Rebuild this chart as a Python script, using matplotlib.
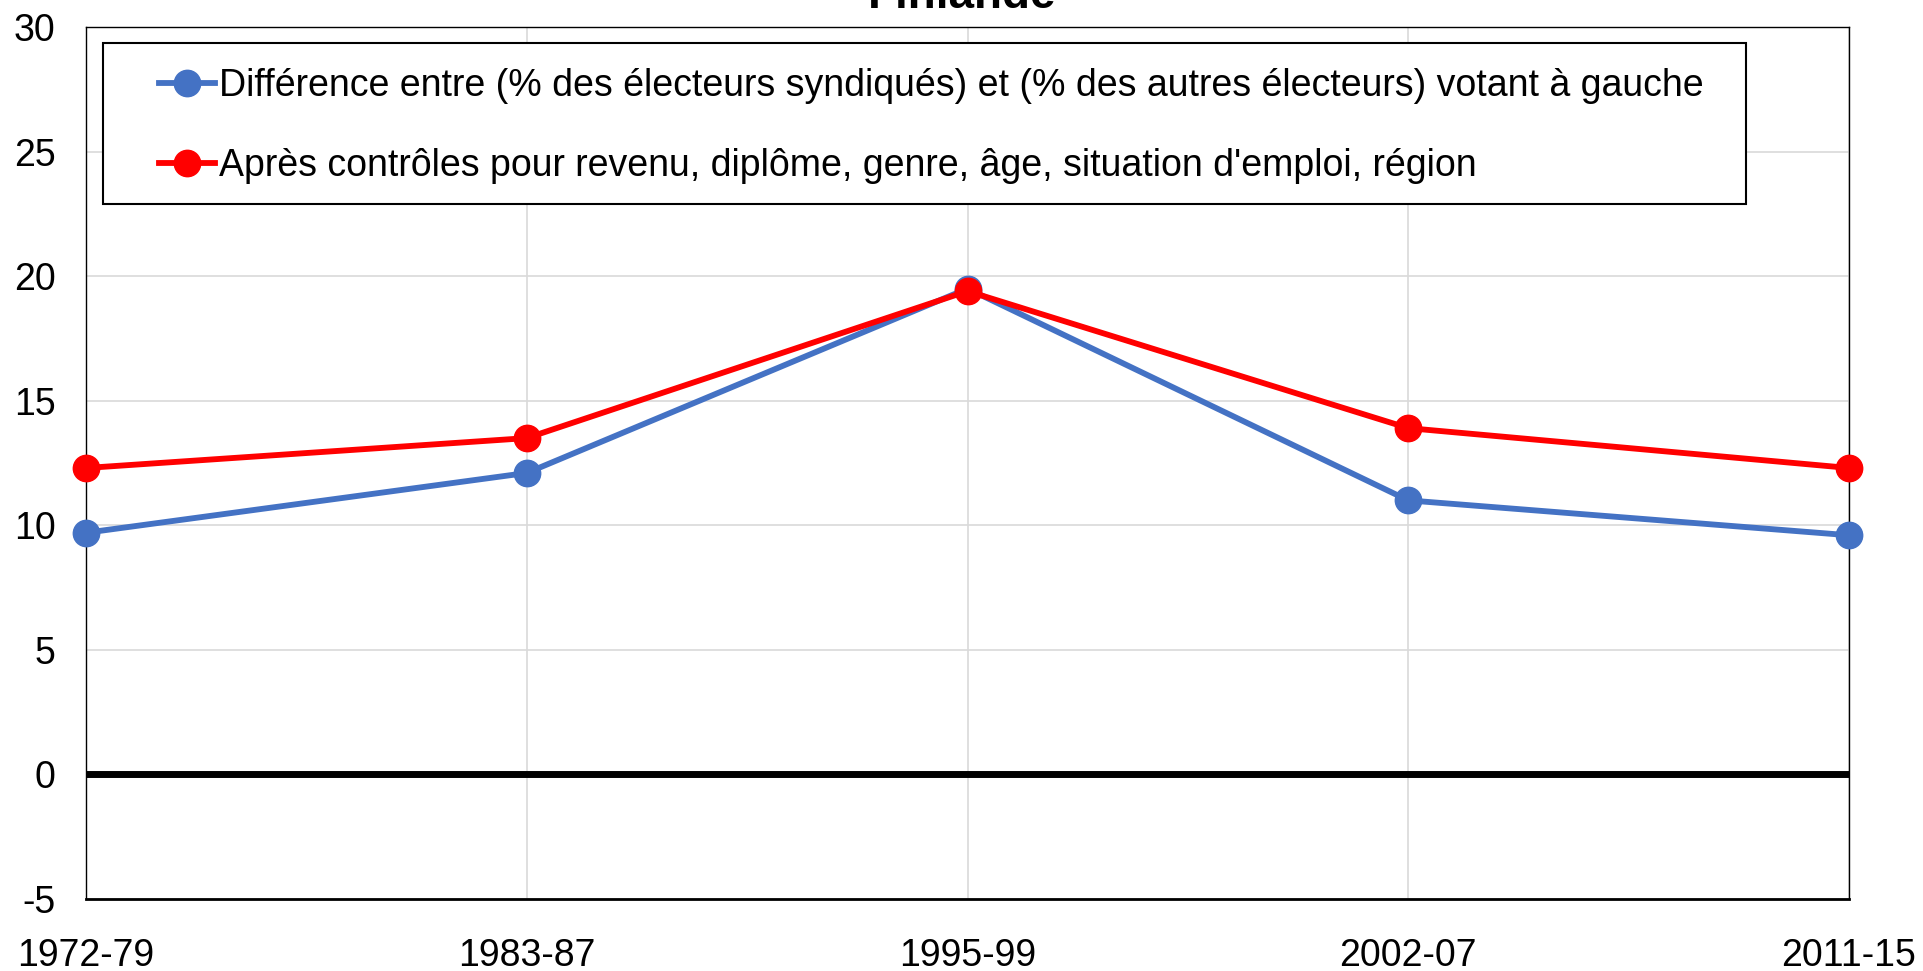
import matplotlib.pyplot as plt
import numpy as np
from matplotlib.patches import Rectangle

plt.rcParams['font.family'] = ['Liberation Sans', 'DejaVu Sans']

periodes = ["1972-79", "1983-87", "1995-99", "2002-07", "2011-15"]
brut = [9.7, 12.1, 19.5, 11.0, 9.6]
controle = [12.3, 13.5, 19.4, 13.9, 12.3]
lab_brut = "Différence entre (% des électeurs syndiqués) et (% des autres électeurs) votant à gauche"
lab_ctrl = "Après contrôles pour revenu, diplôme, genre, âge, situation d'emploi, région"

W, H = 1923, 971
L, R, T, B = 86, 1849, 27, 899

fig = plt.figure(figsize=(W/100, H/100), dpi=100)
ax = fig.add_axes([L/W, 1-B/H, (R-L)/W, (B-T)/H])

x = np.arange(len(periodes))
ax.plot(x, brut, color="#4472C4", lw=4.2, marker="o", ms=19, label=lab_brut, zorder=3, clip_on=False)
ax.plot(x, controle, color="#FF0000", lw=4.2, marker="o", ms=19, label=lab_ctrl, zorder=4, clip_on=False)
ax.axhline(0, color="black", lw=5, zorder=2)

ax.set_xlim(0, 4)
ax.set_ylim(-5, 30)
ax.set_yticks(range(-5, 31, 5))
ax.set_yticklabels([str(v) for v in range(-5, 31, 5)])
ax.set_xticks(x)
ax.set_xticklabels(periodes)
ax.grid(True, color="#d9d9d9", lw=1.2)
ax.set_axisbelow(True)
ax.tick_params(axis="both", length=0, labelsize=27)
ax.tick_params(axis="x", pad=28)
ax.tick_params(axis="y", pad=22)
for s in ["left", "right", "top"]:
    ax.spines[s].set_linewidth(1.0)
ax.spines["bottom"].set_linewidth(2.0)

# legend frame drawn by hand, entries placed inside it
def ax_x(px):
    return (px - L) / (R - L)

def ax_y(py):
    return 1 - (py - T) / (B - T)

ax.add_patch(Rectangle((ax_x(103), ax_y(204)), ax_x(1746) - ax_x(103), ax_y(43) - ax_y(204),
                       transform=ax.transAxes, fill=True, facecolor="white",
                       edgecolor="black", lw=1.5, zorder=5))
leg = ax.legend(loc="upper left", bbox_to_anchor=(ax_x(159), ax_y(68)),
                fontsize=27, frameon=False,
                handlelength=1.5, handletextpad=0.1, labelspacing=1.17, borderpad=0,
                borderaxespad=0)
leg.set_zorder(6)

fig.text((L + R) / 2 / W - 5/W, 1 - 8/H, "Finlande", ha="center", va="baseline",
         fontsize=33, fontweight="bold")

fig.savefig("out.png", dpi=100)
